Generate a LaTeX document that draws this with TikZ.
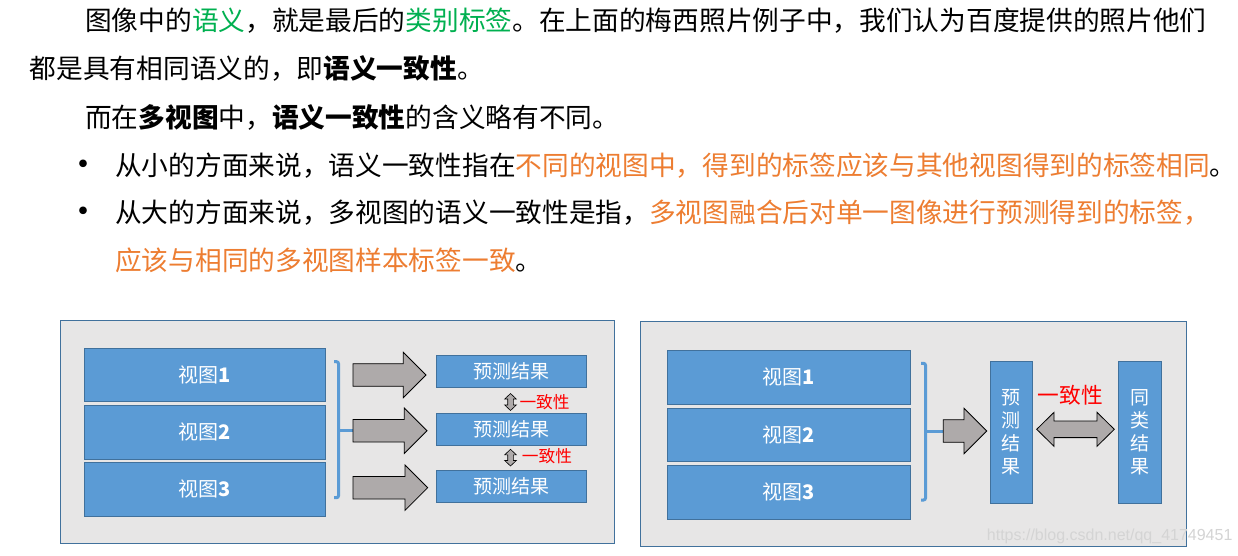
\documentclass[tikz,border=0pt]{standalone}
\usepackage{fontspec}
\usepackage{xcolor}
\newfontfamily\cjk{Noto Sans CJK SC}
\newfontfamily\wmfont{Liberation Sans}
\definecolor{sgreen}{HTML}{00B050}
\definecolor{sorange}{HTML}{ED7D31}
\definecolor{boxblue}{HTML}{5B9BD5}
\definecolor{boxline}{HTML}{41719C}
\definecolor{panelgray}{HTML}{E7E6E6}
\definecolor{arrowgray}{HTML}{AEAAAA}

\tikzset{
  txt/.style={inner sep=0pt,anchor=base west,font=\cjk\fontsize{26.7}{30}\selectfont},
  dot/.style={inner sep=0pt,font=\cjk\fontsize{36}{36}\selectfont},
  panel/.style={draw=boxline,fill=panelgray,line width=0.8pt},
  viewbox/.style={draw=boxline,fill=boxblue,line width=0.8pt,inner sep=0pt,text=white,font=\cjk\fontsize{20}{24}\selectfont},
  resbox/.style={draw=boxline,fill=boxblue,line width=0.8pt,inner sep=0pt,text=white,align=center,font=\cjk\fontsize{19}{23}\selectfont},
  brace/.style={draw=boxblue,line width=3pt,rounded corners=2pt},
  bigarr/.style={draw=black,fill=arrowgray,line width=0.8pt,line join=miter},
  agree/.style={inner sep=0pt,text=red,font=\cjk\fontsize{16.7}{20}\selectfont}
}

% block arrow: tail x, tip x, mid y
\newcommand{\fatarrow}[3]{%
  \draw[bigarr] (#1,#3-11.3) -- (#2-22.7,#3-11.3) -- (#2-22.7,#3-22.7) -- (#2,#3)
    -- (#2-22.7,#3+22.7) -- (#2-22.7,#3+11.3) -- (#1,#3+11.3) -- cycle;}
% double block arrow, horizontal: x1, x2, y, shaft half, head half, head length
\newcommand{\twinarrow}[6]{%
  \draw[bigarr] (#1,#3) -- (#1+#6,#3-#5) -- (#1+#6,#3-#4) -- (#2-#6,#3-#4) -- (#2-#6,#3-#5)
    -- (#2,#3) -- (#2-#6,#3+#5) -- (#2-#6,#3+#4) -- (#1+#6,#3+#4) -- (#1+#6,#3+#5) -- cycle;}
% double block arrow, vertical: y1, y2, x, shaft half, head half, head length
\newcommand{\twinarrowv}[6]{%
  \draw[bigarr,line width=0.6pt] (#3,#1) -- (#3-#5,#1+#6) -- (#3-#4,#1+#6) -- (#3-#4,#2-#6) -- (#3-#5,#2-#6)
    -- (#3,#2) -- (#3+#5,#2-#6) -- (#3+#4,#2-#6) -- (#3+#4,#1+#6) -- (#3+#5,#1+#6) -- cycle;}

\begin{document}
\begin{tikzpicture}[x=1pt,y=-1pt]
\fill[white] (0,0) rectangle (1238,555);
\useasboundingbox (0,0) rectangle (1238,555);

% text above
\node[txt] (l1) at (85,30.1) {图像中的\textcolor{sgreen}{语义}，就是最后的\textcolor{sgreen}{类别标签}。在上面的梅西照片例子中，我们认为百度提供的照片他们};
\node[txt] (l2) at (29.6,78.1) {都是具有相同语义的，即\textbf{语义一致性}。};
\node[txt] (l3) at (85,127.1) {而在\textbf{多视图}中，\textbf{语义一致性}的含义略有不同。};
\node[dot] (b1) at (83.5,168.5) {•};
\node[txt] (l4) at (115,175.1) {从小的方面来说，语义一致性指在\textcolor{sorange}{不同的视图中，得到的标签应该与其他视图得到的标签相同}。};
\node[dot] (b2) at (83.5,215.5) {•};
\node[txt] (l5) at (115,222.1) {从大的方面来说，多视图的语义一致性是指，\textcolor{sorange}{多视图融合后对单一图像进行预测得到的标签，}};
\node[txt] (l6) at (115,270.1) {\textcolor{sorange}{应该与相同的多视图样本标签一致}。};

% left panel
\draw[panel] (60,320) rectangle (614,543);
\node[viewbox,minimum width=241.4pt,minimum height=53.4pt] (lv1) at (205,375) {视图\textbf{1}};
\node[viewbox,minimum width=241.4pt,minimum height=53.4pt] (lv2) at (205,432.3) {视图\textbf{2}};
\node[viewbox,minimum width=241.4pt,minimum height=53.4pt] (lv3) at (205,489.3) {视图\textbf{3}};
\draw[brace] (334,361.7) -- (338.5,361.7) -- (338.5,497.7) -- (334,497.7);
\draw[brace] (338.5,430) -- (353,430);
\fatarrow{353}{426}{375}
\fatarrow{353}{427}{430.7}
\fatarrow{353}{427.7}{487.7}
\node[resbox,minimum width=150.7pt,minimum height=32pt] (lr1) at (511.3,371.7) {预测结果};
\node[resbox,minimum width=150.7pt,minimum height=32pt] (lr2) at (511.3,429.2) {预测结果};
\node[resbox,minimum width=150.7pt,minimum height=32pt] (lr3) at (511.3,486.7) {预测结果};
\twinarrowv{393.5}{410.5}{510.5}{2.8}{5.8}{5.5}
\twinarrowv{449.3}{466}{510.5}{2.8}{5.8}{5.5}
\node[agree,anchor=west] (c1) at (519.3,401.7) {一致性};
\node[agree,anchor=west] (c2) at (521.7,456) {一致性};

% right panel
\draw[panel] (640.7,321) rectangle (1186.7,546.7);
\node[viewbox,minimum width=243pt,minimum height=54.3pt] (rv1) at (788.8,377.2) {视图\textbf{1}};
\node[viewbox,minimum width=243pt,minimum height=53.4pt] (rv2) at (788.8,435) {视图\textbf{2}};
\node[viewbox,minimum width=243pt,minimum height=53.4pt] (rv3) at (788.8,492.3) {视图\textbf{3}};
\draw[brace] (921,363.3) -- (925.5,363.3) -- (925.5,500) -- (921,500);
\draw[brace] (925.5,431) -- (943.3,431);
\fatarrow{943.3}{986.7}{431}
\node[resbox,minimum width=42.7pt,minimum height=142.3pt] (rp) at (1011.3,432.2) {预\\测\\结\\果};
\node[resbox,minimum width=43.4pt,minimum height=142.3pt] (rs) at (1140,432.2) {同\\类\\结\\果};
\twinarrow{1036.7}{1114.3}{429.3}{8.3}{17}{17.3}
\node[agree,font=\cjk\fontsize{21.7}{24}\selectfont] (c3) at (1070.5,395) {一致性};

% watermark
\node[inner sep=0pt,anchor=west,text=black!17,font=\wmfont\fontsize{16}{16}\selectfont] (wm) at (986.7,536) {https://blog.csdn.net/qq\_41749451};
\end{tikzpicture}
\end{document}
